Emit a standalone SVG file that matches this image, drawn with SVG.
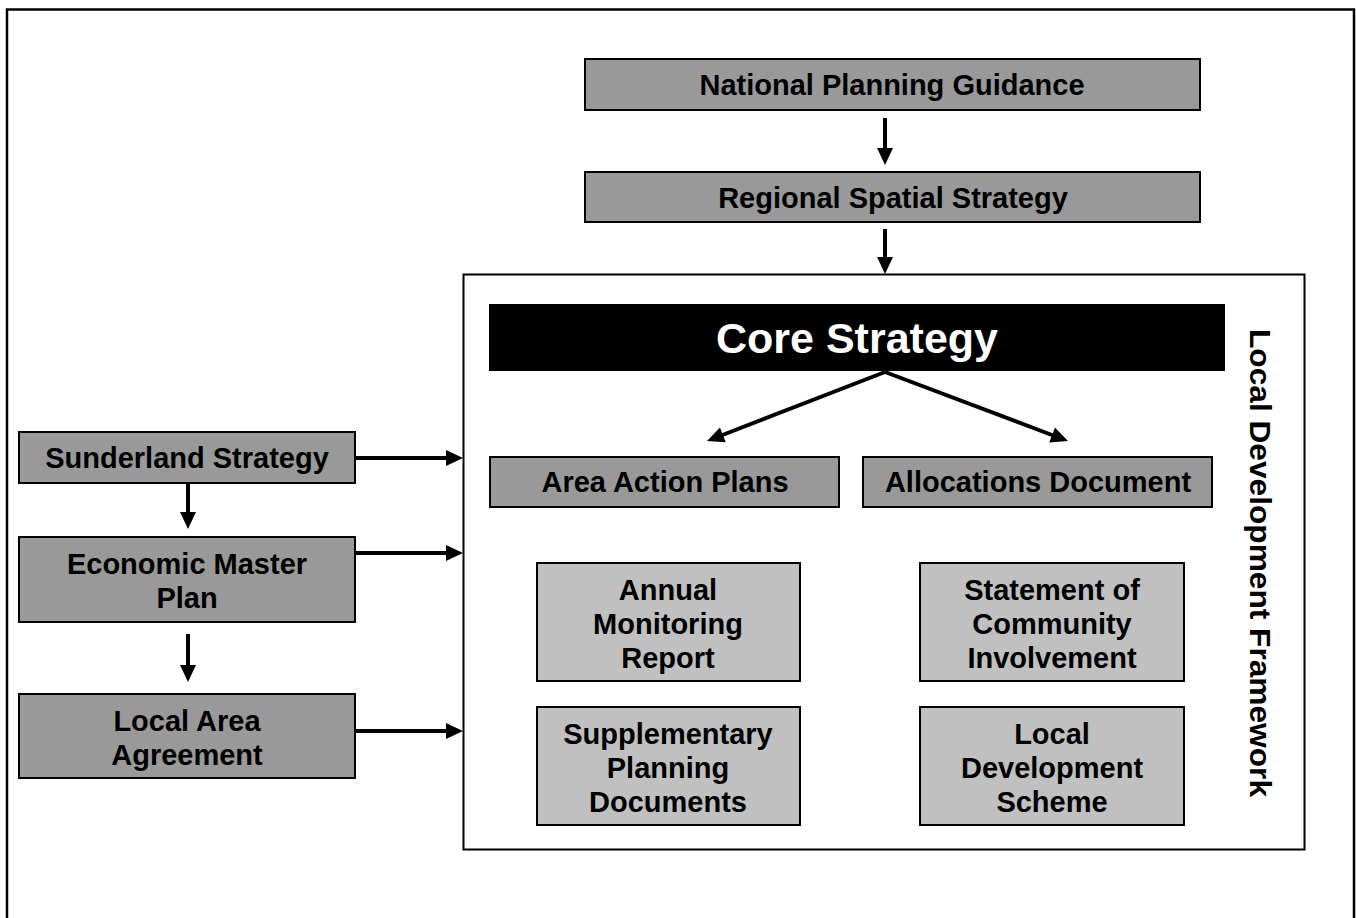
<svg xmlns="http://www.w3.org/2000/svg" width="1356" height="918" viewBox="0 0 1356 918">
<defs>
<path id="head" d="M0,0 L-17,-8 L-17,8 z" fill="#000"/>
<style>
.t{font-family:"Liberation Sans",Arial,sans-serif;font-weight:bold;font-size:29px;fill:#000;text-anchor:middle}
.dk{fill:#999999;stroke:#000;stroke-width:2}
.lt{fill:#c0c0c0;stroke:#000;stroke-width:2}
.c{stroke:#000;stroke-width:4;fill:none}
</style>
</defs>
<rect width="1356" height="918" fill="#fff"/>
<path d="M7,1000 V9.5 H1354 V1000" fill="none" stroke="#000" stroke-width="2.5"/>
<g id="ldf">
<rect x="463.5" y="274.5" width="841" height="575" fill="#fff" stroke="#000" stroke-width="2"/>
<text class="t" transform="translate(1250,563) rotate(90)" style="font-size:30px" textLength="468" lengthAdjust="spacingAndGlyphs">Local Development Framework</text>
</g>
<g id="npg">
<rect class="dk" x="585" y="59" width="615" height="51"/>
<text class="t" x="892" y="95">National Planning Guidance</text>
</g>
<g id="rss">
<rect class="dk" x="585" y="172" width="615" height="50"/>
<text class="t" x="893" y="208">Regional Spatial Strategy</text>
</g>
<g id="core">
<rect x="489" y="304" width="736" height="67" fill="#000"/>
<text class="t" x="857" y="353" style="font-size:43px;fill:#fff">Core Strategy</text>
</g>
<g id="aap">
<rect class="dk" x="490" y="457" width="349" height="50"/>
<text class="t" x="665" y="492">Area Action Plans</text>
</g>
<g id="alloc">
<rect class="dk" x="863" y="457" width="349" height="50"/>
<text class="t" x="1038" y="492">Allocations Document</text>
</g>
<g id="amr">
<rect class="lt" x="537" y="563" width="263" height="118"/>
<text class="t" x="668" y="600">Annual<tspan x="668" dy="34">Monitoring</tspan><tspan x="668" dy="34">Report</tspan></text>
</g>
<g id="sci">
<rect class="lt" x="920" y="563" width="264" height="118"/>
<text class="t" x="1052" y="600">Statement of<tspan x="1052" dy="34">Community</tspan><tspan x="1052" dy="34">Involvement</tspan></text>
</g>
<g id="spd">
<rect class="lt" x="537" y="707" width="263" height="118"/>
<text class="t" x="668" y="744">Supplementary<tspan x="668" dy="34">Planning</tspan><tspan x="668" dy="34">Documents</tspan></text>
</g>
<g id="lds">
<rect class="lt" x="920" y="707" width="264" height="118"/>
<text class="t" x="1052" y="744">Local<tspan x="1052" dy="34">Development</tspan><tspan x="1052" dy="34">Scheme</tspan></text>
</g>
<g id="ss">
<rect class="dk" x="19" y="432" width="336" height="51"/>
<text class="t" x="187" y="468">Sunderland Strategy</text>
</g>
<g id="emp">
<rect class="dk" x="19" y="537" width="336" height="85"/>
<text class="t" x="187" y="574">Economic Master<tspan x="187" dy="34">Plan</tspan></text>
</g>
<g id="laa">
<rect class="dk" x="19" y="694" width="336" height="84"/>
<text class="t" x="187" y="731">Local Area<tspan x="187" dy="34">Agreement</tspan></text>
</g>
<g id="connectors">
<path class="c" d="M885,118 V155"/>
<use href="#head" transform="translate(885,165) rotate(90)"/>
<path class="c" d="M885,229 V264"/>
<use href="#head" transform="translate(885,274) rotate(90)"/>
<path class="c" d="M885,372 L716,437.5"/>
<use href="#head" transform="translate(707,441) rotate(158.8)"/>
<path class="c" d="M885,372 L1058.6,437.5"/>
<use href="#head" transform="translate(1068,441) rotate(20.7)"/>
<path class="c" d="M188,484 V519"/>
<use href="#head" transform="translate(188,529) rotate(90)"/>
<path class="c" d="M188,634 V672"/>
<use href="#head" transform="translate(188,682) rotate(90)"/>
<path class="c" d="M356,458 H453"/>
<use href="#head" transform="translate(463,458)"/>
<path class="c" d="M356,553 H453"/>
<use href="#head" transform="translate(463,553)"/>
<path class="c" d="M356,731 H453"/>
<use href="#head" transform="translate(463,731)"/>
</g>
</svg>
